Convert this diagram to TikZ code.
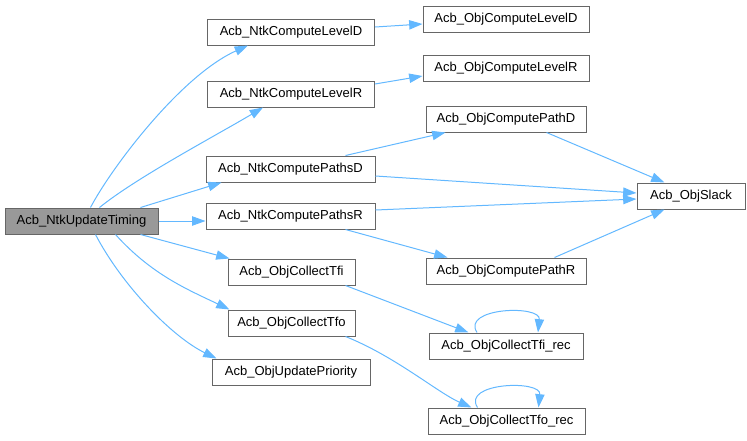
\documentclass[tikz,border=0pt]{standalone}
\usepackage{fontspec}
\setmainfont{Liberation Sans}
\usetikzlibrary{arrows.meta,calc}
\definecolor{edgeblue}{HTML}{63B8FF}
\definecolor{boxborder}{HTML}{666666}
\definecolor{rootfill}{HTML}{999999}
\begin{document}
\begin{tikzpicture}[x=0.75pt,y=-0.75pt,
 box/.style={draw=boxborder, fill=white, line width=0.75pt, minimum height=19.5pt, inner sep=0pt, font=\fontsize{9.75}{11}\selectfont},
 bw/.style={minimum width=#1*0.75pt},
 conn/.style={draw=edgeblue, line width=0.75pt, -{Triangle[length=10pt,width=7pt]}},
]
\useasboundingbox (0,0) rectangle (747,440);

\node[box,bw=153,fill=rootfill] (root) at (81.5,221) {Acb\_NtkUpdateTiming};
\node[box,bw=167] (nld) at (291,32) {Acb\_NtkComputeLevelD};
\node[box,bw=167] (nlr) at (291,94) {Acb\_NtkComputeLevelR};
\node[box,bw=169] (npd) at (290.5,169) {Acb\_NtkComputePathsD};
\node[box,bw=169] (npr) at (290.5,216) {Acb\_NtkComputePathsR};
\node[box,bw=127] (cti) at (291.5,272) {Acb\_ObjCollectTfi};
\node[box,bw=127] (cto) at (291.5,323) {Acb\_ObjCollectTfo};
\node[box,bw=158] (oup) at (291,372) {Acb\_ObjUpdatePriority};
\node[box,bw=166] (old) at (506,19) {Acb\_ObjComputeLevelD};
\node[box,bw=166] (olr) at (506,68) {Acb\_ObjComputeLevelR};
\node[box,bw=160] (opd) at (506,119) {Acb\_ObjComputePathD};
\node[box,bw=160] (opr) at (506,271) {Acb\_ObjComputePathR};
\node[box,bw=108] (osl) at (691,196) {Acb\_ObjSlack};
\node[box,bw=154] (tfi) at (506,346) {Acb\_ObjCollectTfi\_rec};
\node[box,bw=157] (tfo) at (506.5,421) {Acb\_ObjCollectTfo\_rec};

% from root
\draw[conn] ($(root.north)+(9,0)$) .. controls ($(root.north)+(30,-40)$) and ($(nld.south)+(-110,30)$) .. ($(nld.south)+(-43,0)$);
\draw[conn] ($(root.north)+(18,0)$) .. controls ($(root.north)+(55,-30)$) and ($(nlr.south)+(-75,28)$) .. ($(nlr.south)+(-28,0)$);
\draw[conn] ($(root.north east)+(-18,0)$) -- ($(npd.south west)+(16,0)$);
\draw[conn] (root.east) -- (npr.west |- root.east);
\draw[conn] ($(root.south east)+(-18,0)$) -- ($(cti.north west)+(2,0)$);
\draw[conn] ($(root.south)+(34,0)$) .. controls ($(root.south)+(70,40)$) and ($(cto.north west)+(-40,-20)$) .. ($(cto.north west)+(2,0)$);
\draw[conn] ($(root.south)+(14,0)$) .. controls ($(root.south)+(40,50)$) and ($(oup.north west)+(-40,-22)$) .. ($(oup.north west)+(5,0)$);

% second level
\draw[conn] ($(nld.east)+(0,-5)$) -- ($(old.west)+(0,5)$);
\draw[conn] ($(nlr.east)+(0,-10)$) -- ($(olr.west)+(0,8)$);
\draw[conn] ($(npd.north east)+(-30,0)$) -- ($(opd.south west)+(20,0)$);
\draw[conn] ($(npd.east)+(0,7)$) -- ($(osl.west)+(0,-3)$);
\draw[conn] ($(npr.east)+(0,-6)$) -- ($(osl.west)+(0,3)$);
\draw[conn] ($(npr.south east)+(-30,0)$) -- ($(opr.north west)+(22,0)$);
\draw[conn] ($(opd.south east)+(-40,0)$) -- ($(osl.north west)+(28,0)$);
\draw[conn] ($(opr.north east)+(-32,0)$) -- ($(osl.south west)+(28,0)$);
\draw[conn] ($(cti.south east)+(-10,0)$) -- ($(tfi.north west)+(40,0)$);
\draw[conn] ($(cto.south east)+(-10,0)$) .. controls ($(cto.south east)+(40,20)$) and ($(tfo.north west)+(10,-15)$) .. ($(tfo.north west)+(44,0)$);

% self loops
\draw[conn] ($(tfi.north)+(-29,0)$) .. controls ($(tfi.north)+(-45,-25)$) and ($(tfi.north)+(35,-28)$) .. ($(tfi.north)+(32,0)$);
\draw[conn] ($(tfo.north)+(-29,0)$) .. controls ($(tfo.north)+(-45,-25)$) and ($(tfo.north)+(35,-28)$) .. ($(tfo.north)+(32,0)$);
\end{tikzpicture}
\end{document}
